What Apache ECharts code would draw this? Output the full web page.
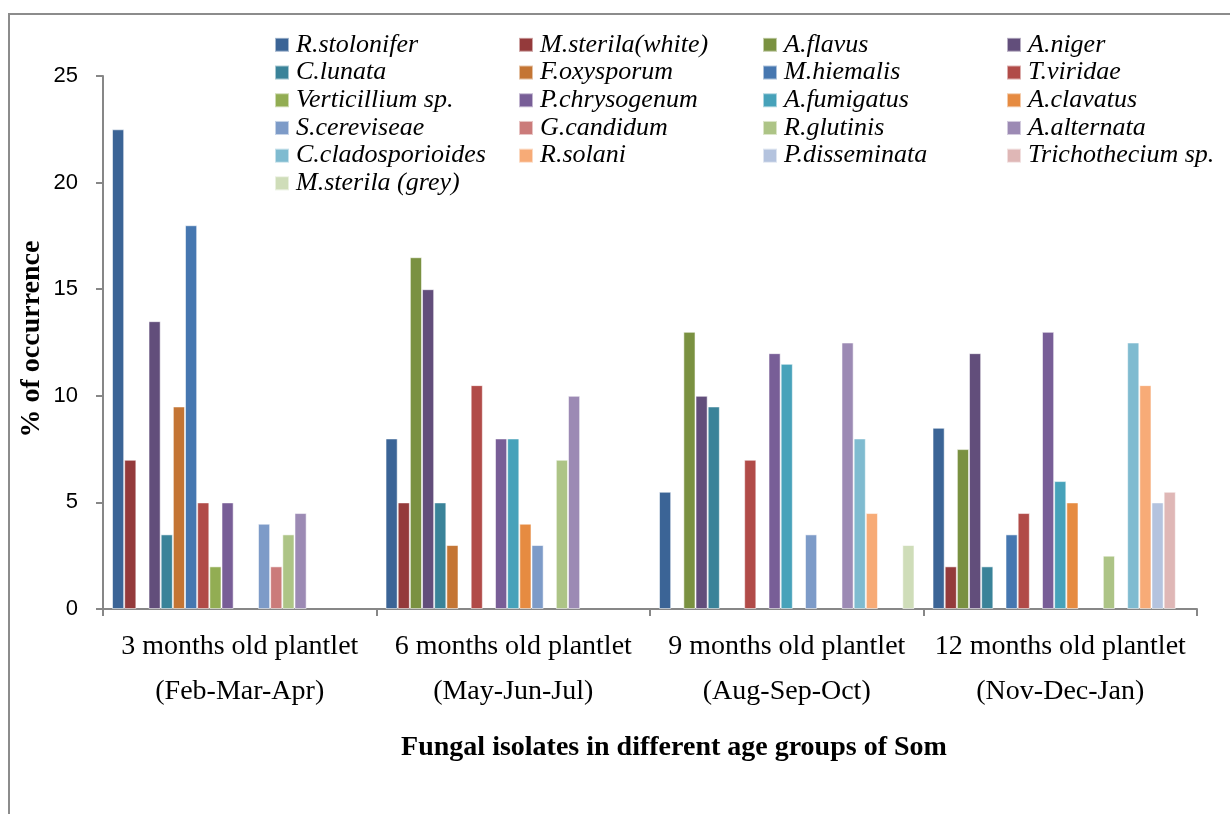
<!DOCTYPE html>
<html>
<head>
<meta charset="utf-8">
<script src="https://cdn.jsdelivr.net/npm/echarts@6/dist/echarts.min.js"></script>
<style>
  html, body { margin: 0; padding: 0; background: #fff; }
  #chart { width: 1230px; height: 814px; }
</style>
</head>
<body>
<div id="chart"></div>
<script>
// Age groups of the plantlets (two-line axis labels)
const categories = [
  '3 months old plantlet\n(Feb-Mar-Apr)',
  '6 months old plantlet\n(May-Jun-Jul)',
  '9 months old plantlet\n(Aug-Sep-Oct)',
  '12 months old plantlet\n(Nov-Dec-Jan)'
];

// Fungal isolates, in series order
const isolates = [
  'R.stolonifer', 'M.sterila(white)', 'A.flavus', 'A.niger',
  'C.lunata', 'F.oxysporum', 'M.hiemalis', 'T.viridae',
  'Verticillium sp.', 'P.chrysogenum', 'A.fumigatus', 'A.clavatus',
  'S.cereviseae', 'G.candidum', 'R.glutinis', 'A.alternata',
  'C.cladosporioides', 'R.solani', 'P.disseminata', 'Trichothecium sp.',
  'M.sterila (grey)'
];

const isolateColors = [
  '#3B6496', '#943A3B', '#7A9141', '#624E7B',
  '#3A8399', '#C47534', '#4677B0', '#B14B48',
  '#92AD53', '#785E97', '#47A2BA', '#E68B41',
  '#7D9BC8', '#CB7B7A', '#ADC486', '#9C8AB4',
  '#7FBBD0', '#F7AB77', '#B4C3DE', '#DFB7B6',
  '#CFDDB9'
];

// % of occurrence of each isolate, one array per age group
const month3  = [22.5, 7, 0, 13.5, 3.5, 9.5, 18, 5, 2, 5, 0, 0, 4, 2, 3.5, 4.5, 0, 0, 0, 0, 0];
const month6  = [8, 5, 16.5, 15, 5, 3, 0, 10.5, 0, 8, 8, 4, 3, 0, 7, 10, 0, 0, 0, 0, 0];
const month9  = [5.5, 0, 13, 10, 9.5, 0, 0, 7, 0, 12, 11.5, 0, 3.5, 0, 0, 12.5, 8, 4.5, 0, 0, 3];
const month12 = [8.5, 2, 7.5, 12, 2, 0, 3.5, 4.5, 0, 13, 6, 5, 0, 0, 2.5, 0, 12.5, 10.5, 5, 5.5, 0];

const groups = [month3, month6, month9, month12];

// Legend laid out in four columns, read row by row
const legendColumns = [0, 1, 2, 3].map(c => isolates.filter((_, i) => i % 4 === c));
const legendLeft = [274, 518, 762, 1006];

const chart = echarts.init(document.getElementById('chart'));

const series = isolates.map((name, i) => ({
  name: name,
  type: 'bar',
  data: groups.map(g => g[i] === 0 ? null : g[i]),
  barGap: '0%',
  barCategoryGap: '6.6%',
  itemStyle: {
    color: isolateColors[i],
    borderColor: 'rgba(255,255,255,0.55)',
    borderWidth: 1
  },
  emphasis: { disabled: true }
}));

const axisGrey = '#878787';

chart.setOption({
  animation: false,
  backgroundColor: '#fff',
  grid: { left: 103, right: 33, top: 76, bottom: 205, containLabel: false },
  legend: legendColumns.map((col, c) => ({
    orient: 'vertical',
    left: legendLeft[c],
    top: 31,
    data: col,
    icon: 'rect',
    itemWidth: 14,
    itemHeight: 14,
    itemGap: 0,
    padding: 0,
    selectedMode: false,
    textStyle: {
      fontFamily: 'Liberation Serif',
      fontStyle: 'italic',
      fontSize: 26,
      color: '#000',
      lineHeight: 27.7,
      padding: [0, 0, 0, 2]
    }
  })),
  xAxis: {
    type: 'category',
    data: categories,
    axisLine: { lineStyle: { color: axisGrey, width: 2 } },
    axisTick: { show: true, length: 7, lineStyle: { color: axisGrey, width: 2 } },
    axisLabel: {
      interval: 0,
      margin: 15,
      fontFamily: 'Liberation Serif',
      fontSize: 28,
      lineHeight: 45,
      color: '#000'
    },
    splitLine: { show: false }
  },
  yAxis: {
    type: 'value',
    min: 0,
    max: 25,
    interval: 5,
    axisLine: { show: true, lineStyle: { color: axisGrey, width: 2 } },
    axisTick: { show: true, length: 7, lineStyle: { color: axisGrey, width: 2 } },
    axisLabel: {
      margin: 25,
      fontFamily: 'Liberation Sans',
      fontSize: 22,
      color: '#000'
    },
    splitLine: { show: false }
  },
  graphic: [
    {
      type: 'polyline',
      silent: true,
      shape: { points: [[9, 820], [9, 14], [1240, 14]] },
      style: { stroke: '#8c8c8c', lineWidth: 2, fill: null }
    },
    {
      type: 'text',
      silent: true,
      x: 32,
      y: 339,
      rotation: Math.PI / 2,
      style: {
        text: '% of occurrence',
        fontFamily: 'Liberation Serif',
        fontWeight: 'bold',
        fontSize: 28,
        fill: '#000',
        align: 'center',
        verticalAlign: 'middle'
      }
    },
    {
      type: 'text',
      silent: true,
      x: 674,
      y: 748,
      style: {
        text: 'Fungal isolates in different age groups of Som',
        fontFamily: 'Liberation Serif',
        fontWeight: 'bold',
        fontSize: 28,
        fill: '#000',
        align: 'center',
        verticalAlign: 'middle'
      }
    }
  ],
  series: series
});
</script>
</body>
</html>
